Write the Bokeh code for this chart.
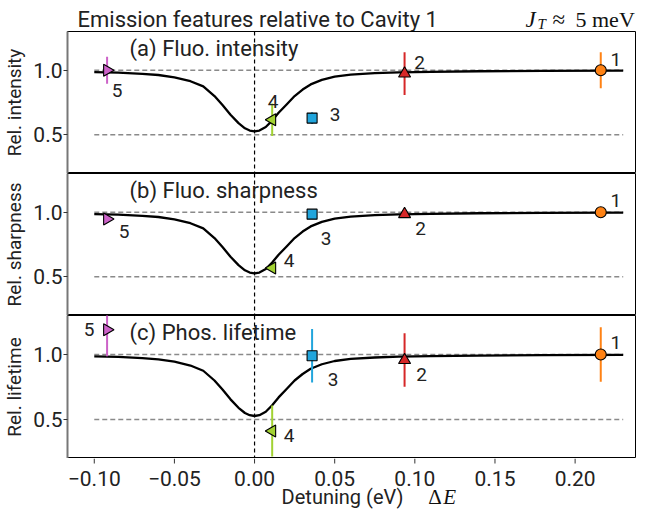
import math
from bokeh.plotting import figure
from bokeh.layouts import column
from bokeh.models import Span, Label, FixedTicker, Range1d, ColumnDataSource
from bokeh.core.properties import value
from bokeh.embed import file_html
from bokeh.resources import INLINE

# ---------------- data ----------------
cavity_ids = ["1", "2", "3", "4", "5"]
detuning = [0.216, 0.0936, 0.0359, 0.011, -0.092]
marker_kind = ["circle", "triangle", "square", "triangle", "triangle"]
marker_colors = ["#ff8214", "#d62728", "#21a5dc", "#a2d232", "#cc62c8"]

fluo_intensity = [1.0, 0.974, 0.629, 0.616, 1.0]
fluo_intensity_err = [0.14, 0.165, 0.045, 0.126, 0.105]
fluo_sharpness = [1.0, 0.985, 0.985, 0.568, 0.947]
fluo_sharpness_err = [0.0, 0.0, 0.0, 0.0, 0.0]
phos_lifetime = [1.0, 0.957, 0.99, 0.411, 1.19]
phos_lifetime_err = [0.21, 0.206, 0.206, 0.196, 0.203]

curve_x = [-0.100, -0.085, -0.070, -0.060, -0.050, -0.040, -0.032, -0.025,
           -0.020, -0.015, -0.010, -0.006, -0.003, 0.000, 0.003, 0.007,
           0.011, 0.015, 0.020, 0.025, 0.030, 0.035, 0.042, 0.050, 0.060,
           0.075, 0.090, 0.110, 0.140, 0.180, 0.230]
curve_y = [0.986, 0.981, 0.972, 0.963, 0.945, 0.915, 0.875, 0.800,
           0.730, 0.655, 0.590, 0.550, 0.533, 0.527, 0.533, 0.560,
           0.610, 0.670, 0.735, 0.800, 0.850, 0.890, 0.925, 0.950, 0.966,
           0.977, 0.983, 0.988, 0.992, 0.995, 0.997]

ref_levels = [1.0, 0.5]
ref_x = [-0.10, 0.23]

xtick_vals = [-0.10, -0.05, 0.0, 0.05, 0.10, 0.15, 0.20]
xtick_labels = ["\u22120.10", "\u22120.05", "0.00", "0.05", "0.10", "0.15", "0.20"]
ytick_vals = [0.5, 1.0]
ytick_labels = ["0.5", "1.0"]

main_title = "Emission features relative to Cavity 1"
x_label = "Detuning (eV)"
panel_titles = ["(a) Fluo. intensity", "(b) Fluo. sharpness", "(c) Phos. lifetime"]
panel_ylabels = ["Rel. intensity", "Rel. sharpness", "Rel. lifetime"]
panel_values = [fluo_intensity, fluo_sharpness, phos_lifetime]
panel_errors = [fluo_intensity_err, fluo_sharpness_err, phos_lifetime_err]

# ---------------- style ----------------
FONT = "Roboto"
SERIF = "Liberation Serif"
TXT = "#222222"
marker_sizes = {"circle": 11, "square": 10, "triangle": 12}
marker_angles = [0, 0, 0, math.pi / 2, -math.pi / 2]
# label offsets (px) per panel, per cavity (dx, dy) with +dy downward
label_offsets = [
    [(15, -11), (15, -11), (23, -4), (1, -18), (10, 20)],
    [(15, -12), (16, 14), (14, 24), (17, -7), (17, 12)],
    [(15, -12), (17, 14), (21, 24), (17, 4), (-18, 0)],
]

W = 636
LEFT = 62
FRAME_W = W - LEFT
X0, X1 = -0.1167, 0.2383
X_RANGE = Range1d(X0, X1)
Y_RANGE = (0.2, 1.3)
TOP_H = 31
BOT_H = 57
frame_heights = [142, 142, 143]


def frame_x(px):
    """x data coordinate of a point px pixels right of the frame's left edge"""
    return X0 + px * (X1 - X0) / FRAME_W


def blank_fig(h, x_range=None, y_range=None):
    f = figure(width=W, height=h, output_backend="svg", toolbar_location=None,
               x_axis_location=None, y_axis_location=None,
               x_range=x_range if x_range is not None else Range1d(0, 1),
               y_range=y_range if y_range is not None else Range1d(0, 1),
               min_border_left=LEFT, min_border_right=0, min_border_top=0, min_border_bottom=0)
    f.outline_line_color = None
    f.xgrid.visible = False
    f.ygrid.visible = False
    return f


# ---------- top strip with title ----------
top = blank_fig(TOP_H)
top.add_layout(Label(x=10, y=12, x_units="screen", y_units="screen", text=main_title,
                     text_font=FONT, text_font_size="22px", text_color=TXT,
                     text_baseline="alphabetic"))
top.add_layout(Label(x=458, y=12, x_units="screen", y_units="screen", text="J",
                     text_font=SERIF, text_font_style="italic", text_font_size="23px",
                     text_color="#111111", text_baseline="alphabetic"))
top.add_layout(Label(x=470, y=8, x_units="screen", y_units="screen", text="T",
                     text_font=SERIF, text_font_style="italic", text_font_size="15px",
                     text_color="#111111", text_baseline="alphabetic"))
top.add_layout(Label(x=485, y=12, x_units="screen", y_units="screen", text="\u2248",
                     text_font=SERIF, text_font_size="23px",
                     text_color="#111111", text_baseline="alphabetic"))
top.add_layout(Label(x=508, y=12, x_units="screen", y_units="screen", text="5 meV",
                     text_font=SERIF, text_font_size="22px",
                     text_color="#111111", text_baseline="alphabetic"))

figs = []
for k in range(3):
    p = figure(width=W, height=frame_heights[k], output_backend="svg",
               toolbar_location=None,
               x_range=X_RANGE, y_range=Range1d(*Y_RANGE),
               x_axis_location=None,
               min_border_left=LEFT, min_border_right=0,
               min_border_top=0, min_border_bottom=0)
    p.xgrid.visible = False
    p.ygrid.visible = False
    p.outline_line_color = "black"
    p.outline_line_width = 1.0
    p.background_fill_color = "white"
    p.border_fill_color = "white"

    # y axis
    p.yaxis.ticker = FixedTicker(ticks=ytick_vals)
    p.yaxis.major_label_overrides = dict(zip(ytick_vals, ytick_labels))
    p.yaxis.axis_label = panel_ylabels[k]
    p.yaxis.axis_label_text_font = FONT
    p.yaxis.axis_label_text_font_style = "normal"
    p.yaxis.axis_label_text_font_size = "19px"
    p.yaxis.axis_label_text_color = TXT
    p.yaxis.axis_label_standoff = 4
    p.yaxis.major_label_text_font = FONT
    p.yaxis.major_label_text_font_size = "21px"
    p.yaxis.major_label_text_color = TXT
    p.yaxis.major_label_standoff = 1
    p.yaxis.major_tick_in = 0
    p.yaxis.major_tick_out = 4
    p.yaxis.minor_tick_line_color = None
    p.yaxis.axis_line_color = "#777777"
    p.yaxis.axis_line_width = 2
    p.yaxis.major_tick_line_color = "#333333"

    # reference dashed lines
    for lvl in ref_levels:
        p.line(ref_x, [lvl, lvl], line_color="#8a8a8a", line_dash="5 3", line_width=1.3)
    p.add_layout(Span(location=0.0, dimension="height", line_color="black",
                      line_dash="4 3", line_width=1.2))

    # model curve
    p.line(curve_x, curve_y, line_color="black", line_width=2.3)

    vals = panel_values[k]
    errs = panel_errors[k]
    src = ColumnDataSource(dict(
        x=detuning, y=vals,
        lo=[v - e for v, e in zip(vals, errs)],
        hi=[v + e for v, e in zip(vals, errs)],
        marker=marker_kind, color=marker_colors,
        size=[marker_sizes[m] for m in marker_kind],
        angle=marker_angles, name=cavity_ids,
        dx=[o[0] for o in label_offsets[k]],
        dy=[o[1] for o in label_offsets[k]],
    ))
    p.segment(x0="x", y0="lo", x1="x", y1="hi", source=src, line_color="color", line_width=2)
    p.scatter(x="x", y="y", marker="marker", size="size", angle="angle", source=src,
              fill_color="color", line_color="black", line_width=1.1)
    p.text(x="x", y="y", text="name", x_offset="dx", y_offset="dy", source=src,
           text_font=value(FONT), text_font_size="19px", text_color=TXT,
           text_align="center", text_baseline="middle")

    p.add_layout(Label(x=-0.078, y=1.17, text=panel_titles[k], text_font=FONT,
                       text_font_size="22px", text_color=TXT,
                       text_align="left", text_baseline="middle"))
    figs.append(p)

# ---------- bottom strip: x ticks, tick labels and x-axis label ----------
# y units of this strip are pixels measured up from its bottom edge
bottom = blank_fig(BOT_H, x_range=X_RANGE, y_range=Range1d(0, BOT_H))
tick_src = ColumnDataSource(dict(x=xtick_vals, label=xtick_labels,
                                 y_top=[BOT_H] * len(xtick_vals),
                                 y_tick=[BOT_H - 5] * len(xtick_vals),
                                 y_lab=[BOT_H - 20] * len(xtick_vals)))
bottom.segment(x0="x", y0="y_top", x1="x", y1="y_tick", source=tick_src,
               line_color="#333333", line_width=1)
bottom.text(x="x", y="y_lab", text="label", source=tick_src,
            text_font=value(FONT), text_font_size="21px", text_color=TXT,
            text_align="center", text_baseline="alphabetic")
LAB_Y = 19
bottom.text(x=[frame_x(216)], y=[LAB_Y], text=[x_label],
            text_font=value(FONT), text_font_size="20px", text_color=TXT,
            text_align="left", text_baseline="alphabetic")
bottom.text(x=[frame_x(364)], y=[LAB_Y], text=["\u0394"],
            text_font=value(SERIF), text_font_size="21px", text_color="#111111",
            text_align="left", text_baseline="alphabetic")
bottom.text(x=[frame_x(379)], y=[LAB_Y], text=["E"],
            text_font=value(SERIF), text_font_style="italic", text_font_size="21px",
            text_color="#111111", text_align="left", text_baseline="alphabetic")

layout = column(top, *figs, bottom, spacing=0)
open("out.html", "w").write(file_html(layout, INLINE))
